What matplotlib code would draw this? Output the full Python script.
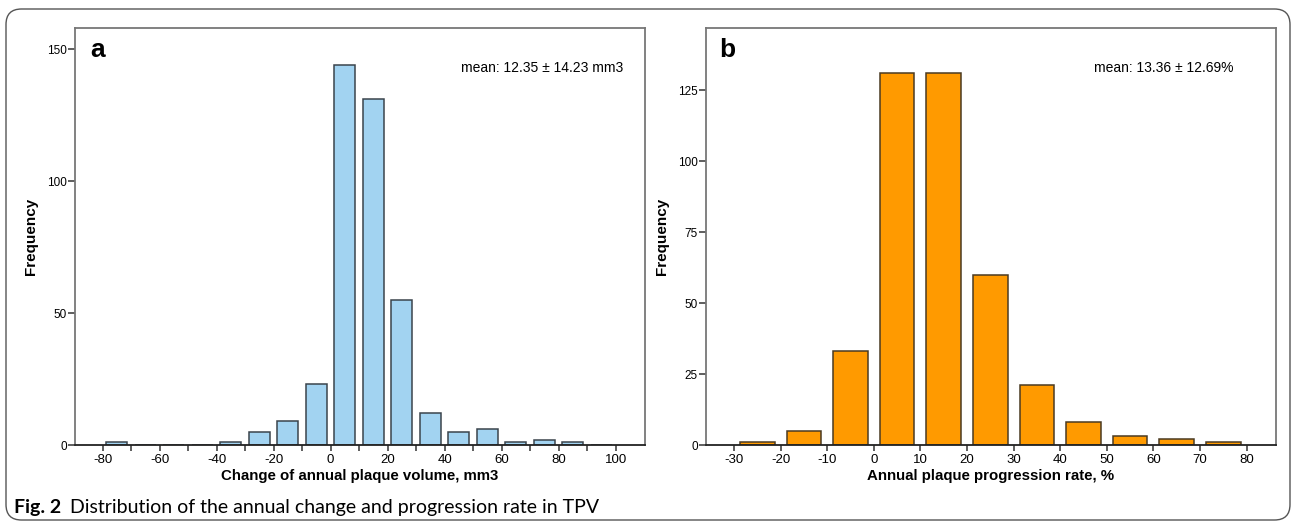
import numpy as np
import matplotlib
matplotlib.use("Agg")
import matplotlib.pyplot as plt
from matplotlib.patches import FancyBboxPatch

# panel a: change of annual plaque volume (bins of 10 mm3, left edges)
vol_edges = [-80, -70, -60, -50, -40, -30, -20, -10, 0, 10, 20, 30, 40, 50, 60, 70, 80, 90]
vol_counts = [1, 0, 0, 0, 1, 5, 9, 23, 144, 131, 55, 12, 5, 6, 1, 2, 1, 0]
vol_ticks = list(range(-80, 101, 10))
vol_labels = [str(t) if t % 20 == 0 else "" for t in vol_ticks]

# panel b: annual plaque progression rate (bins of 10 %, left edges)
rate_edges = [-30, -20, -10, 0, 10, 20, 30, 40, 50, 60, 70]
rate_counts = [1, 5, 33, 131, 131, 60, 21, 8, 3, 2, 1]
rate_ticks = list(range(-30, 81, 10))

plt.rcParams['font.family'] = ['Liberation Sans', 'DejaVu Sans']
plt.rcParams['axes.unicode_minus'] = False

W, H = 1292, 524
fig = plt.figure(figsize=(W / 100, H / 100), dpi=100)

# rounded frame around the whole figure
frame = FancyBboxPatch((6 / W, 4 / H), (1290 - 6) / W, (515 - 4) / H,
                       boxstyle="round,pad=0,rounding_size=0.012",
                       transform=fig.transFigure, fill=False,
                       edgecolor='#555555', lw=1.0, mutation_aspect=W / H)
fig.patches.append(frame)


def style_axes(ax):
    for s in ['left', 'top', 'right']:
        ax.spines[s].set_color('#777777')
        ax.spines[s].set_linewidth(1.3)
    ax.spines['bottom'].set_color('#222222')
    ax.spines['bottom'].set_linewidth(1.3)
    ax.tick_params(axis='y', direction='out', length=5, width=1.1,
                   color='#333333', labelsize=8.5, pad=1)
    ax.tick_params(axis='x', direction='out', length=4.5, width=1.1,
                   color='#333333', labelsize=9.5, pad=2)
    ax.set_ylabel("Frequency", fontsize=11, fontweight='bold', labelpad=6)


def hist_panel(ax, edges, counts, color, edge):
    centers = np.array(edges) + 5
    ax.bar(centers, counts, width=7.4, color=color, edgecolor=edge, lw=1.1,
           zorder=2)


# panel a
ax1 = fig.add_axes([75 / W, 1 - 445 / H, 570 / W, 417 / H])
hist_panel(ax1, vol_edges, vol_counts, '#a2d3f1', '#3a444c')
ax1.set_xlim(-89.7, 110.3)
ax1.set_ylim(0, 158)
ax1.set_yticks([0, 50, 100, 150])
ax1.set_xticks(vol_ticks)
ax1.set_xticklabels(vol_labels)
style_axes(ax1)
ax1.set_xlabel("Change of annual plaque volume, mm3", fontsize=10.8,
               fontweight='bold', labelpad=2)
ax1.text(0.026, 0.947, "a", transform=ax1.transAxes, fontsize=19,
         fontweight='bold', va='center', ha='left')
ax1.text(0.961, 0.904, "mean: 12.35 \u00b1 14.23 mm3", transform=ax1.transAxes,
         fontsize=10, va='center', ha='right')

# panel b
ax2 = fig.add_axes([706 / W, 1 - 445 / H, 570 / W, 417 / H])
hist_panel(ax2, rate_edges, rate_counts, '#ff9a00', '#4a3a22')
ax2.set_xlim(-36, 86.3)
ax2.set_ylim(0, 147)
ax2.set_yticks([0, 25, 50, 75, 100, 125])
ax2.set_xticks(rate_ticks)
style_axes(ax2)
ax2.set_xlabel("Annual plaque progression rate, %", fontsize=10.8,
               fontweight='bold', labelpad=2)
ax2.text(0.023, 0.947, "b", transform=ax2.transAxes, fontsize=19,
         fontweight='bold', va='center', ha='left')
ax2.text(0.926, 0.904, "mean: 13.36 \u00b1 12.69%", transform=ax2.transAxes,
         fontsize=10, va='center', ha='right')

# caption: bold "Fig. 2" followed by regular text
cap_font = ['Lato', 'DejaVu Sans']
t1 = fig.text(14 / W, 1 - 507 / H, "Fig. 2", fontsize=14, fontweight='bold',
              family=cap_font, va='center', ha='left')
fig.canvas.draw()
bb = t1.get_window_extent(fig.canvas.get_renderer())
fig.text(bb.x1 / W + 9 / W, 1 - 507 / H,
         "Distribution of the annual change and progression rate in TPV",
         fontsize=14, family=cap_font, va='center', ha='left')

fig.savefig("out.png", dpi=100)
